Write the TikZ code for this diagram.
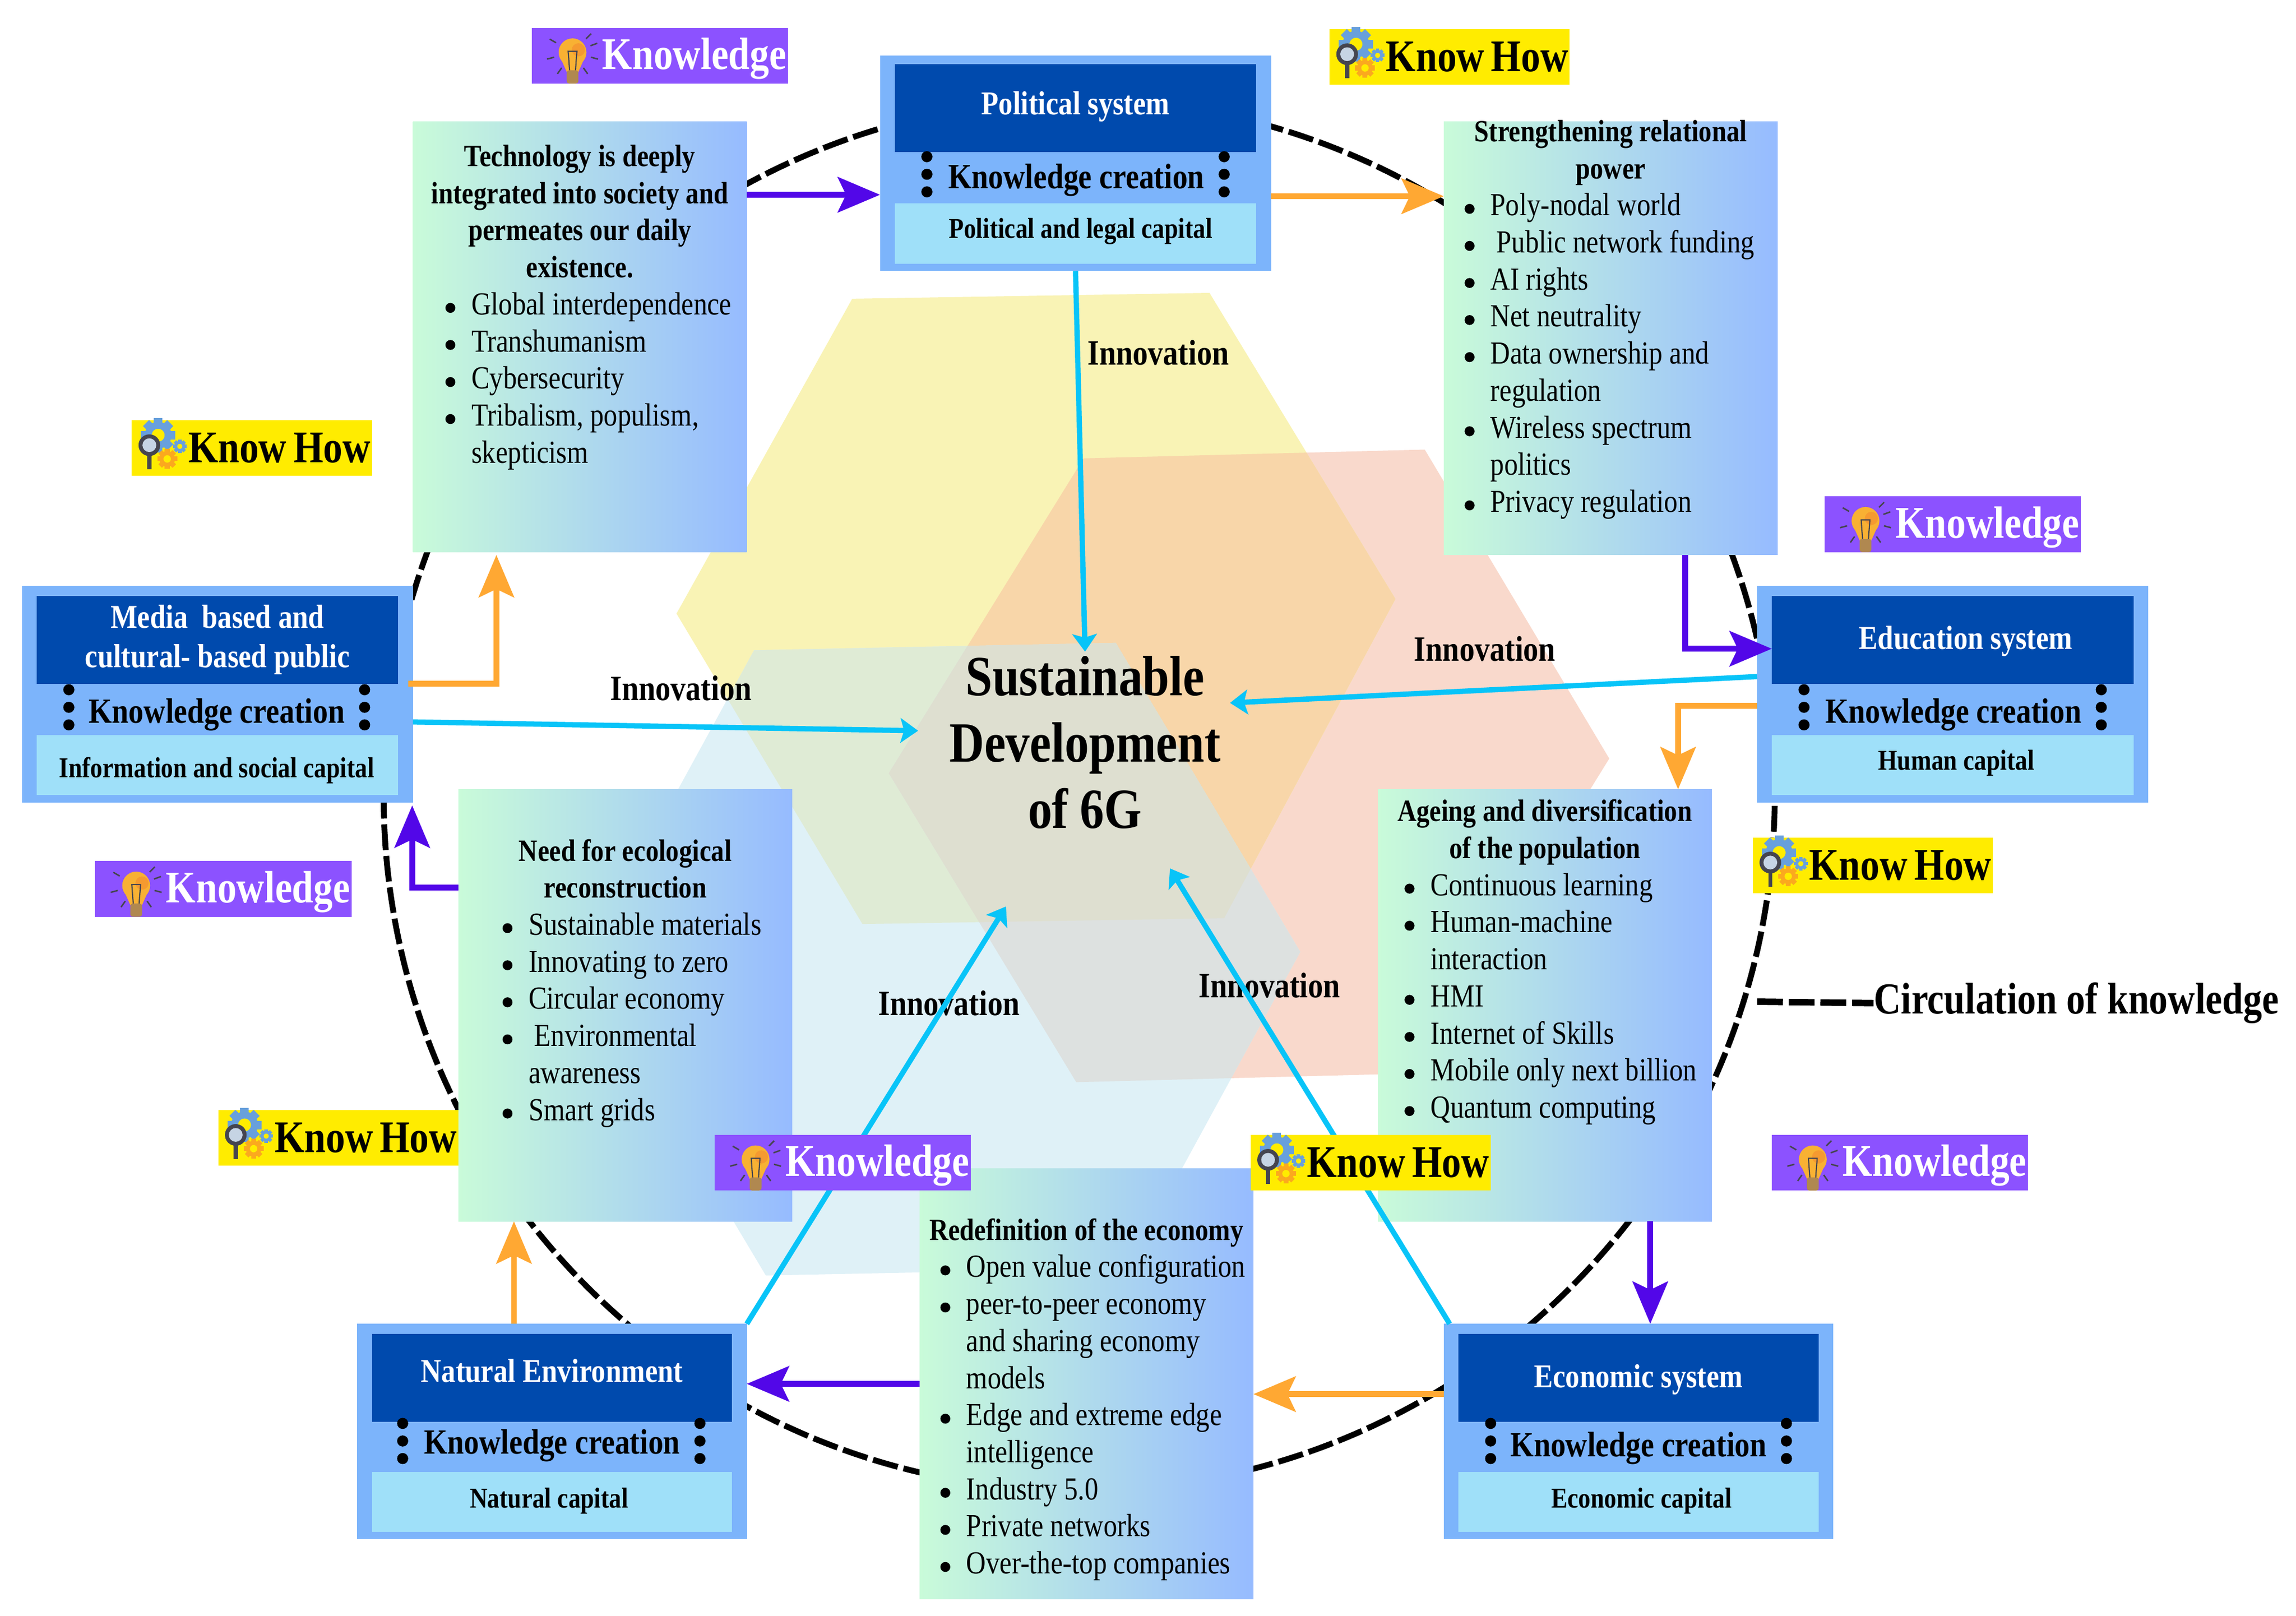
\documentclass[tikz,border=0pt]{standalone}
\usepackage{fontspec}
\setmainfont[FakeStretch=0.85]{Liberation Serif}
\usetikzlibrary{arrows.meta,calc}
\definecolor{hex_pink}    {HTML}{F9D9CC}
\definecolor{hex_yellow}  {HTML}{F9F3B5}
\definecolor{hex_blue}    {HTML}{DFF1F7}
\definecolor{hex_py}      {HTML}{F8D6A9}
\definecolor{hex_yb}      {HTML}{DFEBD5}
\definecolor{hex_pb}      {HTML}{DDE1E0}
\definecolor{hex_pyb}     {HTML}{DEDFD0}
\definecolor{box_outer}   {HTML}{7CB4FB}
\definecolor{box_head}    {HTML}{004AAD}
\definecolor{box_capital} {HTML}{9FE0F9}
\definecolor{card_left}   {HTML}{C9FBD9}
\definecolor{card_right}  {HTML}{96BBFF}
\definecolor{tag_purple}  {HTML}{8C52FF}
\definecolor{tag_yellow}  {HTML}{FFEC00}
\definecolor{flow_purple} {HTML}{5207E8}
\definecolor{flow_orange} {HTML}{FFA833}
\definecolor{flow_cyan}   {HTML}{08C4F8}
\definecolor{bulb_amber}  {HTML}{F8B133}
\definecolor{bulb_deep}   {HTML}{F59A30}
\definecolor{bulb_base}   {HTML}{B08850}
\definecolor{gear_blue}   {HTML}{68A0DC}
\definecolor{gear_orange} {HTML}{FBA91E}
\definecolor{lens_dark}   {HTML}{45454F}
\definecolor{lens_glass}  {HTML}{C6D4E4}
\newlength{\pxu}
\setlength{\pxu}{0.025cm}
\newcommand{\cardfont}{\fontsize{15.6}{18}\selectfont}
\newcommand{\cardhead}{\fontsize{15}{18}\selectfont\centering\bfseries}
\newcommand{\hexpink}{(740,313) -- (973,307) -- (1099,518) -- (966,733) -- (735,739) -- (607,528) -- cycle}
\newcommand{\hexyellow}{(582,204) -- (826,200) -- (953,409) -- (836,627) -- (589,631) -- (462,419) -- cycle}
\newcommand{\hexblue}{(515,444) -- (762,439) -- (888,650) -- (770,866) -- (523,871) -- (397,660) -- cycle}
\newcommand{\tridots}[2]{\foreach \dy in {0,12,24} \fill[black] (#1,#2+\dy) circle[radius=3.8];}
\newcommand{\gearwheel}[4]{
  \foreach \a in {0,45,...,315} \draw[#4,line width=#3*0.5*\pxu] ($(#1,#2)+(\a:#3*0.6)$) -- ($(#1,#2)+(\a:#3)$);
  \draw[#4,line width=#3*0.4*\pxu] (#1,#2) circle[radius=#3*0.58];
}
\newcommand{\cardbody}[3]{\parbox[c][#1\pxu][t]{228\pxu}{\vspace*{#2\pxu}#3}}
\newcommand{\bigdot}{\tikz[baseline=-3.3pt]\fill[black] (0,0) circle (0.085cm);}
\newcommand{\nudge}[2]{\raisebox{#1\pxu}[\height][\depth]{#2}}
\newenvironment{cardlist}[1]{\begin{list}{\bigdot}{\setlength{\leftmargin}{#1\pxu}\setlength{\labelsep}{11\pxu}\setlength{\labelwidth}{16\pxu}\setlength{\topsep}{0pt}\setlength{\partopsep}{0pt}\setlength{\parsep}{0pt}\setlength{\itemsep}{0pt}\raggedright}}{\end{list}}
\tikzset{
  outerbox/.style={anchor=north west,fill=box_outer,inner sep=0,outer sep=0,minimum width=267*\pxu,minimum height=147*\pxu},
  headbox/.style={anchor=north west,fill=box_head,text=white,font=\fontsize{16.2}{19.2}\selectfont\bfseries,align=center,inner sep=0,outer sep=0,minimum width=247*\pxu,minimum height=60*\pxu},
  capbox/.style={anchor=north west,fill=box_capital,inner sep=0,outer sep=0,minimum width=247*\pxu,minimum height=41*\pxu},
  captext/.style={font=\fontsize{14}{16}\selectfont\bfseries,inner sep=0},
  knowtext/.style={font=\fontsize{17.2}{20}\selectfont\bfseries,inner sep=0},
  card/.style={anchor=north west,left color=card_left,right color=card_right,font=\cardfont,inner sep=0,outer sep=0},
  knowtag/.style={anchor=north west,fill=tag_purple,text=white,font=\fontsize{22}{25}\selectfont\bfseries,align=right,inner xsep=1*\pxu,inner ysep=0,outer sep=0,text width=173*\pxu,minimum height=38*\pxu},
  howtag/.style={anchor=north west,fill=tag_yellow,text=black,font=\fontsize{22}{25}\selectfont\bfseries,align=right,inner xsep=1*\pxu,inner ysep=0,outer sep=0,text width=162*\pxu,minimum height=38*\pxu},
  innotext/.style={font=\fontsize{17.3}{20}\selectfont\bfseries,inner sep=0},
  ringline/.style={draw=black,line width=0.1cm,dash pattern=on 0.44cm off 0.1cm},
  flowpurple/.style={draw=flow_purple,line width=0.1cm,-{Stealth[length=0.72cm,width=0.6cm,inset=0.14cm]}},
  floworange/.style={draw=flow_orange,line width=0.1cm,-{Stealth[length=0.72cm,width=0.6cm,inset=0.14cm]}},
  flowcyan/.style={draw=flow_cyan,line width=0.09cm,-{Stealth[length=0.3cm,width=0.42cm,inset=0.06cm]}},
  bulbicon/.pic={
    \foreach \a in {90,125,55,15,165,-20,-45,-150} \draw[lens_dark,line width=0.025cm] ($(28,16.7)+(\a:13)$) -- ($(28,16.7)+(\a:18)$);
    \fill[bulb_amber] (28,16.7) circle[radius=9.5];
    \fill[bulb_amber] (20,21) -- (36,21) -- (32,30) -- (24,30) -- cycle;
    \fill[bulb_deep] (32,15) circle[radius=4.5];
    \fill[bulb_base,rounded corners=0.04cm] (24,29) rectangle (32,38);
    \draw[lens_dark,line width=0.02cm] (26,29) -- (25,16) -- (31,16) -- (30,29);
  },
  gearsicon/.pic={
    \gearwheel{18}{10.2}{11.7}{gear_blue}
    \gearwheel{32.8}{17.8}{4.7}{gear_blue}
    \gearwheel{24.2}{26.4}{6.8}{gear_orange}
    \draw[lens_dark,line width=0.07cm] (12,24) -- (12,33.5);
    \fill[lens_dark] (12,17) circle[radius=7.4];
    \fill[lens_glass] (12,17) circle[radius=4.7];
  }
}
\begin{document}
\begin{tikzpicture}[x=0.025cm,y=-0.025cm]
\useasboundingbox (0,0) rectangle (1568,1103.5);
% hexagons behind the centre
\fill[hex_pink] \hexpink;
\fill[hex_yellow] \hexyellow;
\fill[hex_blue] \hexblue;
\begin{scope}
\clip \hexyellow;
\fill[hex_py] \hexpink;
\end{scope}
\begin{scope}
\clip \hexblue;
\fill[hex_yb] \hexyellow;
\fill[hex_pb] \hexpink;
\clip \hexyellow;
\fill[hex_pyb] \hexpink;
\end{scope}
\node[circle,ringline,inner sep=0,minimum size=950*\pxu] (ring) at (737,543) {};
% text cards
\node[card] (tech) at (282,83) {\cardbody{294}{16}{{\cardhead Technology is deeply\\integrated into society and\\permeates our daily\\existence.\par}
\begin{cardlist}{40}
\item Global interdependence
\item Transhumanism
\item Cybersecurity
\item Tribalism, populism,\\skepticism
\end{cardlist}}};
\node[card] (rel) at (986,83) {\cardbody{296}{-1}{{\cardhead Strengthening relational\\power\par}
\begin{cardlist}{32}
\item Poly-nodal world
\item \hspace{4\pxu}Public network funding
\item AI rights
\item Net neutrality
\item Data ownership and\\regulation
\item Wireless spectrum\\politics
\item Privacy regulation
\end{cardlist}}};
\node[card] (age) at (941,539) {\cardbody{295}{7}{{\cardhead Ageing and diversification\\of the population\par}
\begin{cardlist}{36}
\item Continuous learning
\item Human-machine\\interaction
\item HMI
\item Internet of Skills
\item Mobile only next billion
\item Quantum computing
\end{cardlist}}};
\node[card] (need) at (313,539) {\cardbody{295}{34}{{\cardhead Need for ecological\\reconstruction\par}
\begin{cardlist}{48}
\item Sustainable materials
\item Innovating to zero
\item Circular economy
\item \hspace{4\pxu}Environmental\\awareness
\item Smart grids
\end{cardlist}}};
\node[card] (red) at (628,798) {\cardbody{294}{34}{{\cardhead Redefinition of the economy\par}
\begin{cardlist}{32}
\item Open value configuration
\item peer-to-peer economy\\and sharing economy\\models
\item Edge and extreme edge\\intelligence
\item Industry 5.0
\item Private networks
\item Over-the-top companies
\end{cardlist}}};
% capital boxes
\node[outerbox] (pol) at (601,38) {};
\node[headbox] (polhead) at (611,44) {\nudge{1}{Political system}};
\node[knowtext] (polknow) at (735,123) {Knowledge creation};
\node[capbox] (polcap) at (611,139) {};
\node[captext] (polcaptext) at (738,158) {Political and legal capital};
\tridots{633}{107}
\tridots{836}{107}
\node[outerbox,minimum height=148*\pxu] (media) at (15,400) {};
\node[headbox] (mediahead) at (25,407) {Media~ based and\\cultural- based public};
\node[knowtext] (mediaknow) at (148,488) {Knowledge creation};
\node[capbox] (mediacap) at (25,502) {};
\node[captext] (mediacaptext) at (148,526) {Information and social capital};
\tridots{47}{471}
\tridots{249}{471}
\node[outerbox,minimum height=148*\pxu] (edu) at (1200,400) {};
\node[headbox] (eduhead) at (1210,407) {\hspace{18\pxu}\nudge{-1}{Education system}};
\node[knowtext] (eduknow) at (1334,488) {Knowledge creation};
\node[capbox] (educap) at (1210,502) {};
\node[captext] (educaptext) at (1336,521) {Human capital};
\tridots{1232}{471}
\tridots{1435}{471}
\node[outerbox,minimum width=266*\pxu] (nat) at (244,904) {};
\node[headbox,minimum width=246*\pxu] (nathead) at (254,911) {\nudge{5}{Natural Environment}};
\node[knowtext] (natknow) at (377,987) {Knowledge creation};
\node[capbox,minimum width=246*\pxu] (natcap) at (254,1005) {};
\node[captext] (natcaptext) at (375,1025) {Natural capital};
\tridots{275}{972}
\tridots{478}{972}
\node[outerbox,minimum width=266*\pxu] (eco) at (986,904) {};
\node[headbox,minimum width=246*\pxu] (ecohead) at (996,911) {\nudge{-1}{Economic system}};
\node[knowtext] (ecoknow) at (1119,989) {Knowledge creation};
\node[capbox,minimum width=246*\pxu] (ecocap) at (996,1005) {};
\node[captext] (ecocaptext) at (1121,1025) {Economic capital};
\tridots{1018}{972}
\tridots{1220}{972}
% centre and labels
\node[font=\fontsize{27.6}{32.2}\selectfont\bfseries,align=center,inner sep=0] (sdg) at (741,507) {Sustainable\\Development\\of 6G};
\node[innotext] (inno1) at (791,241) {Innovation};
\node[innotext] (inno2) at (465,470) {Innovation};
\node[innotext] (inno3) at (1014,443) {Innovation};
\node[innotext] (inno4) at (648,685) {Innovation};
\node[innotext] (inno5) at (867,673) {Innovation};
\node[font=\fontsize{21.5}{25}\selectfont\bfseries,inner sep=0] (circ) at (1418,685) {Circulation of knowledge};
\coordinate (circtail) at (1200,684);
\draw[ringline,line width=0.11cm] (circtail) -- (circ.west);
% innovation arrows
\draw[flowcyan] (pol.south) -- ($(sdg.center)+(0,-62)$);
\draw[flowcyan] ($(media.east)+(0,19)$) -- ($(sdg.center)+(-114,-8)$);
\draw[flowcyan] ($(edu.west)+(0,-12)$) -- ($(sdg.center)+(99,-27)$);
\draw[flowcyan] ($(nat.east)+(0,-73.5)$) -- ($(sdg.center)+(-54,112)$);
\draw[flowcyan] ($(eco.west)+(4,-73.5)$) -- ($(sdg.center)+(58,86)$);
% circulation arrows
\draw[flowpurple] ($(tech.east)+(0,-97)$) -- ($(pol.west)+(0,21.5)$);
\draw[floworange] ($(pol.east)+(0,22.5)$) -- ($(rel.west)+(0,-97)$);
\draw[flowpurple] ($(rel.south)+(51,0)$) |- ($(edu.west)+(10,-31)$);
\draw[floworange] ($(edu.west)+(0,8)$) -| ($(age.north)+(91,0)$);
\draw[flowpurple] ($(age.south)+(72,0)$) -- ($(eco.north)+(8,0)$);
\draw[floworange] ($(eco.west)+(0,-25.5)$) -- ($(red.east)+(0,7)$);
\draw[flowpurple] (red.west) -- ($(nat.east)+(0,-32.5)$);
\draw[floworange] ($(nat.north)+(-26,0)$) -- ($(need.south)+(-76,0)$);
\draw[flowpurple] ($(need.west)+(0,-80.5)$) -| ($(media.south)+(133,2)$);
\draw[floworange] ($(media.east)+(-3,-7)$) -| ($(tech.south)+(-57,2)$);
% tags
\node[knowtag] (know1) at (363,19) {\nudge{-2}{Knowledge}};
\pic at (363,19) {bulbicon};
\node[knowtag] (know2) at (1246,339) {\nudge{-2}{Knowledge}};
\pic at (1246,339) {bulbicon};
\node[knowtag] (know3) at (65,588) {\nudge{-2}{Knowledge}};
\pic at (65,588) {bulbicon};
\node[knowtag] (know4) at (488,775) {\nudge{-2}{Knowledge}};
\pic at (488,775) {bulbicon};
\node[knowtag] (know5) at (1210,775) {\nudge{-2}{Knowledge}};
\pic at (1210,775) {bulbicon};
\node[howtag] (how1) at (908,20) {Know\hspace{0.15em}How};
\pic at (908,20) {gearsicon};
\node[howtag] (how2) at (90,287) {Know\hspace{0.15em}How};
\pic at (90,287) {gearsicon};
\node[howtag] (how3) at (1197,572) {Know\hspace{0.15em}How};
\pic at (1197,572) {gearsicon};
\node[howtag] (how4) at (149,758) {Know\hspace{0.15em}How};
\pic at (149,758) {gearsicon};
\node[howtag] (how5) at (854,775) {Know\hspace{0.15em}How};
\pic at (854,775) {gearsicon};
\end{tikzpicture}
\end{document}
